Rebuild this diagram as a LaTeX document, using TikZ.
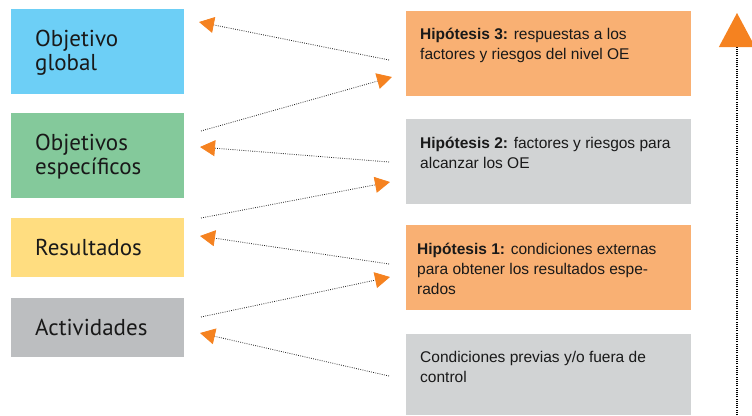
\documentclass[tikz,border=0pt]{standalone}
\usepackage{fontspec}
\setmainfont{Liberation Sans}
\newfontfamily\dinfont{PT Sans}
\usetikzlibrary{arrows.meta,calc}
\definecolor{cblue}{HTML}{6DCFF6}
\definecolor{cgreen}{HTML}{84C99B}
\definecolor{cyellow}{HTML}{FFDD80}
\definecolor{cgrayl}{HTML}{BCBEC0}
\definecolor{corangebox}{HTML}{F9B073}
\definecolor{cgrayr}{HTML}{D1D3D4}
\definecolor{carrow}{HTML}{F58220}
\definecolor{cdots}{HTML}{222222}
\begin{document}
\begin{tikzpicture}[x=1pt,y=-1pt,
  lbox/.style={draw=none,minimum width=173pt,inner sep=0pt,outer sep=0pt},
  rbox/.style={draw=none,minimum width=285pt,inner sep=0pt,outer sep=0pt},
  ltext/.style={font=\dinfont\fontsize{23}{24}\selectfont,align=left,inner sep=0pt,text=black!90},
  rtext/.style={font=\fontsize{15.5}{20}\selectfont,inner sep=0pt,anchor=base west,text=black!90},
  link/.style={draw=cdots,line width=0.8pt,dash pattern=on 0.8pt off 1.4pt,
    -{Triangle[length=15pt,width=16pt,color=carrow]}},
  bigarrow/.style={draw=black,line width=1.3pt,dash pattern=on 1pt off 1.2pt,
    -{Triangle[length=34pt,width=36pt,color=carrow]}}]
\useasboundingbox (0,0) rectangle (752,415);
% left boxes
\node[lbox,fill=cblue,minimum height=85pt] (og) at (97.5,51.5) {};
\node[lbox,fill=cgreen,minimum height=85pt] (oe) at (97.5,155.5) {};
\node[lbox,fill=cyellow,minimum height=59pt] (re) at (97.5,247.5) {};
\node[lbox,fill=cgrayl,minimum height=59pt] (ac) at (97.5,327.5) {};
\node[ltext,anchor=west] (ogt) at ($(og.west)+(24,1)$) {Objetivo\\global};
\node[ltext,anchor=west] (oet) at ($(oe.west)+(24,1)$) {Objetivos\\específicos};
\node[ltext,anchor=west] (ret) at ($(re.west)+(24,0)$) {Resultados};
\node[ltext,anchor=west] (act) at ($(ac.west)+(24,0)$) {Actividades};
% right boxes
\node[rbox,fill=corangebox,minimum height=85pt] (h3) at (548.5,53.5) {};
\node[rbox,fill=cgrayr,minimum height=85pt] (h2) at (548.5,161.5) {};
\node[rbox,fill=corangebox,minimum height=85pt] (h1) at (548.5,267.5) {};
\node[rbox,fill=cgrayr,minimum height=81pt] (cp) at (548.5,374.5) {};
\node[rtext] (h3t) at (420,39) {\vtop{\hbox{\textbf{Hipótesis 3:} respuestas a los}\hbox{factores y riesgos del nivel OE}}};
\node[rtext] (h2t) at (420,148) {\vtop{\hbox{\textbf{Hipótesis 2:} factores y riesgos para}\hbox{alcanzar los OE}}};
\node[rtext] (h1t) at (417,254) {\vtop{\hbox{\textbf{Hipótesis 1:} condiciones externas}\hbox{para obtener los resultados espe-}\hbox{rados}}};
\node[rtext] (cpt) at (420,362) {\vtop{\hbox{Condiciones previas y/o fuera de}\hbox{control}}};
% connector endpoints
\coordinate (a1s) at (389,60);  \coordinate (a1e) at (199,22);
\coordinate (a2s) at (201,131); \coordinate (a2e) at (392,77);
\coordinate (a3s) at (389,162); \coordinate (a3e) at (200,147);
\coordinate (a4s) at (201,218); \coordinate (a4e) at (390,182);
\coordinate (a5s) at (389,264); \coordinate (a5e) at (200,236);
\coordinate (a6s) at (201,317); \coordinate (a6e) at (390,277);
\coordinate (a7s) at (389,376); \coordinate (a7e) at (200,333);
\draw[link] (a1s) -- (a1e);
\draw[link] (a2s) -- (a2e);
\draw[link] (a3s) -- (a3e);
\draw[link] (a4s) -- (a4e);
\draw[link] (a5s) -- (a5e);
\draw[link] (a6s) -- (a6e);
\draw[link] (a7s) -- (a7e);
% vertical arrow
\coordinate (vs) at (737,415);
\coordinate (ve) at (737,13);
\draw[bigarrow] (vs) -- (ve);
\end{tikzpicture}
\end{document}
